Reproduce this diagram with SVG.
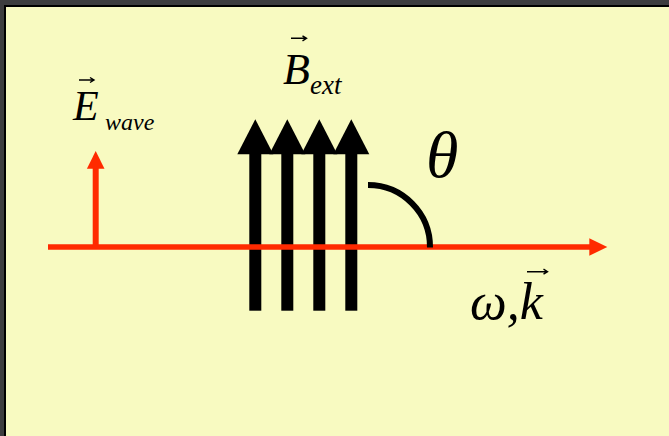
<svg xmlns="http://www.w3.org/2000/svg" width="669" height="436" viewBox="0 0 669 436">
<style>
.lbl{font-family:"Liberation Serif","Times New Roman",serif;font-style:italic;fill:#000}
.red{stroke:#FF2A00;fill:none}
.redf{fill:#FF2A00}
.blk{fill:#000}
.vec{stroke:#000;stroke-width:1.4;fill:none}
</style>
<rect x="0" y="0" width="669" height="436" fill="#3d3d3f"/>
<rect x="4" y="5" width="665" height="431" fill="#000"/>
<rect x="6" y="7" width="663" height="429" fill="#F8FAC1"/>

<g id="bext">
  <rect x="249.3" y="150" width="12" height="160.7" class="blk"/>
  <rect x="281.3" y="150" width="12" height="160.7" class="blk"/>
  <rect x="313.3" y="150" width="12" height="160.7" class="blk"/>
  <rect x="345.3" y="150" width="12" height="160.7" class="blk"/>
  <polygon points="255.3,119.3 273.3,154.3 237.3,154.3" class="blk"/>
  <polygon points="287.3,119.3 305.3,154.3 269.3,154.3" class="blk"/>
  <polygon points="319.3,119.3 337.3,154.3 301.3,154.3" class="blk"/>
  <polygon points="351.3,119.3 369.3,154.3 333.3,154.3" class="blk"/>
</g>

<g id="connectors">
  <line x1="48" y1="247" x2="591" y2="247" class="red" stroke-width="5.6"/>
  <polygon points="589.3,238.3 607.3,247 589.3,255.7" class="redf"/>
  <line x1="95.7" y1="247" x2="95.7" y2="166" class="red" stroke-width="6"/>
  <polygon points="95.7,151 104.5,168.7 86.9,168.7" class="redf"/>
  <path d="M368,185 A62,62 0 0 1 430,247.5" stroke="#000" stroke-width="6" fill="none"/>
</g>

<g id="label-e">
  <text x="73" y="120" class="lbl" font-size="42">E</text>
  <text x="105" y="130" class="lbl" font-size="24">wave</text>
  <path d="M79,80 H93 M90,77.5 L94,80 L90,82.5" class="vec"/>
</g>
<g id="label-b">
  <text x="283" y="84" class="lbl" font-size="44">B</text>
  <text x="310" y="94" class="lbl" font-size="27">ext</text>
  <path d="M291,38.3 H305.5 M302.5,35.8 L306.5,38.3 L302.5,40.8" class="vec"/>
</g>
<g id="label-theta">
  <text x="426" y="177" class="lbl" font-size="66">θ</text>
</g>
<g id="label-wk">
  <text x="470" y="319" class="lbl" font-size="52">ω,k</text>
  <path d="M527,271.7 H546.5 M543.5,269.2 L547.5,271.7 L543.5,274.2" class="vec"/>
</g>
</svg>
